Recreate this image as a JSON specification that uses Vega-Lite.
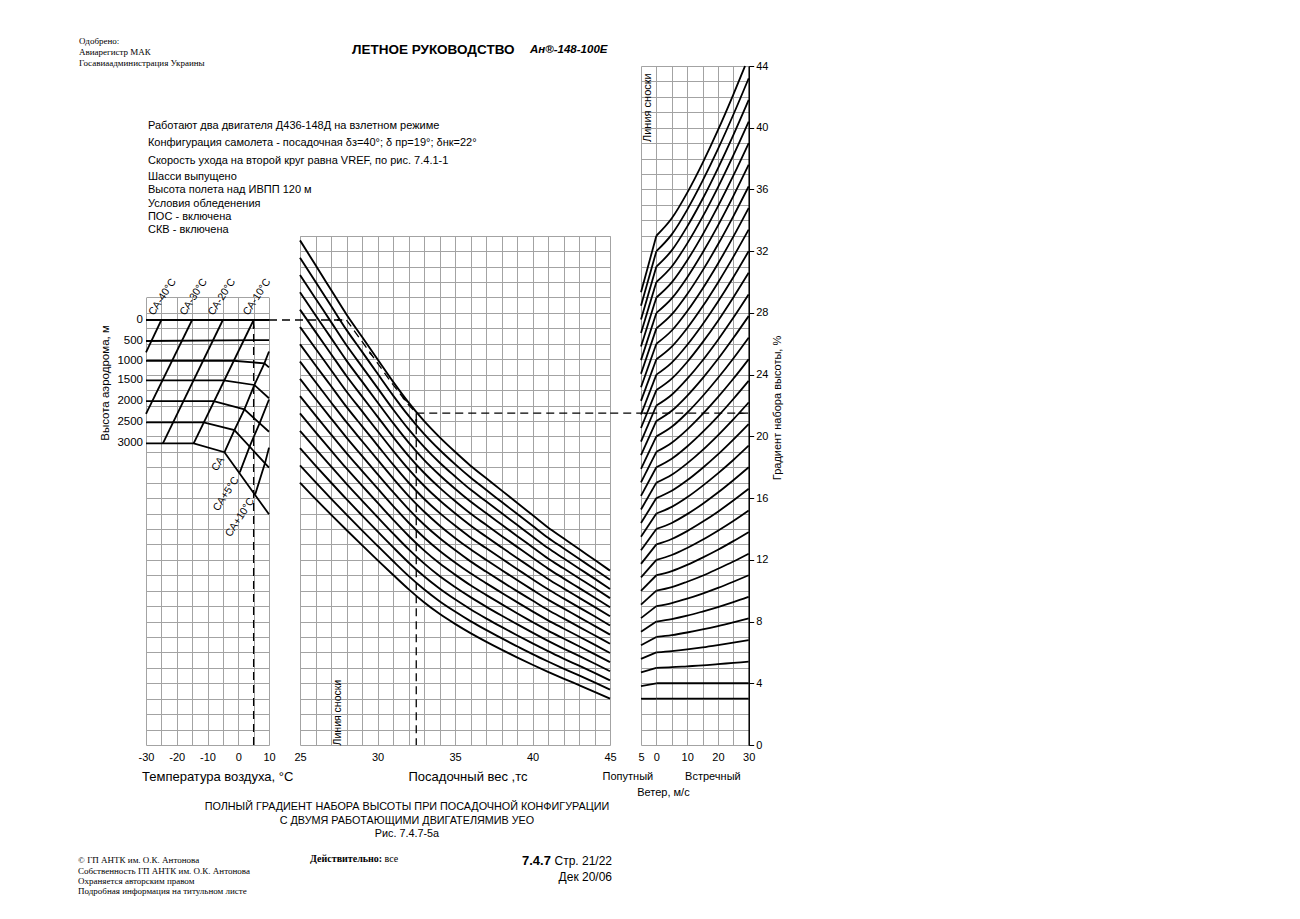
{
  "$schema": "https://vega.github.io/schema/vega-lite/v6.json",
  "width": 1300,
  "height": 919,
  "autosize": {"type": "none"},
  "padding": 0,
  "background": "white",
  "config": {
    "view": {"stroke": null},
    "font": "Liberation Sans",
    "axis": {"labelFont": "Liberation Sans", "labelColor": "black", "labelFontSize": 11, "gridColor": "#a3a3a3", "gridWidth": 1, "domainColor": "#808080", "tickColor": "black", "labelFlush": false, "labelOverlap": false},
    "text": {"font": "Liberation Sans", "fontSize": 11, "color": "black"}
  },
  "datasets": {
    "leftLines": [
      {"id": "h0", "i": 0, "t": -30, "y": 27.54}, {"id": "h0", "i": 1, "t": 10, "y": 27.54},
      {"id": "h500", "i": 0, "t": -30, "y": 26.18}, {"id": "h500", "i": 1, "t": 10, "y": 26.24},
      {"id": "h1000", "i": 0, "t": -30, "y": 24.9}, {"id": "h1000", "i": 1, "t": -1.5, "y": 24.9}, {"id": "h1000", "i": 2, "t": 8.5, "y": 24.73}, {"id": "h1000", "i": 3, "t": 10, "y": 24.47},
      {"id": "h1500", "i": 0, "t": -30, "y": 23.63}, {"id": "h1500", "i": 1, "t": -4.75, "y": 23.63}, {"id": "h1500", "i": 2, "t": 5.25, "y": 23.33}, {"id": "h1500", "i": 3, "t": 10, "y": 22.47},
      {"id": "h2000", "i": 0, "t": -30, "y": 22.29}, {"id": "h2000", "i": 1, "t": -8, "y": 22.29}, {"id": "h2000", "i": 2, "t": 2, "y": 21.75}, {"id": "h2000", "i": 3, "t": 10, "y": 20.3},
      {"id": "h2500", "i": 0, "t": -30, "y": 20.91}, {"id": "h2500", "i": 1, "t": -11.25, "y": 20.91}, {"id": "h2500", "i": 2, "t": -1.25, "y": 20.41}, {"id": "h2500", "i": 3, "t": 10, "y": 17.97},
      {"id": "h3000", "i": 0, "t": -30, "y": 19.55}, {"id": "h3000", "i": 1, "t": -14.5, "y": 19.55}, {"id": "h3000", "i": 2, "t": -4.5, "y": 18.97}, {"id": "h3000", "i": 3, "t": 10, "y": 14.95},
      {"id": "m40", "i": 0, "t": -25, "y": 27.54}, {"id": "m40", "i": 1, "t": -30, "y": 25.45},
      {"id": "m30", "i": 0, "t": -15, "y": 27.54}, {"id": "m30", "i": 1, "t": -30, "y": 21.46},
      {"id": "m20", "i": 0, "t": -5, "y": 27.54}, {"id": "m20", "i": 1, "t": -24.5, "y": 19.55},
      {"id": "m10", "i": 0, "t": 5, "y": 27.54}, {"id": "m10", "i": 1, "t": -14.5, "y": 19.55},
      {"id": "p0", "i": 0, "t": -4.5, "y": 18.97}, {"id": "p0", "i": 1, "t": -1.25, "y": 20.41}, {"id": "p0", "i": 2, "t": 2, "y": 21.75}, {"id": "p0", "i": 3, "t": 5.25, "y": 23.33}, {"id": "p0", "i": 4, "t": 8.5, "y": 24.73}, {"id": "p0", "i": 5, "t": 10, "y": 25.5},
      {"id": "p5", "i": 0, "t": 0.5, "y": 17.67}, {"id": "p5", "i": 1, "t": 3.75, "y": 19.37}, {"id": "p5", "i": 2, "t": 7, "y": 20.88}, {"id": "p5", "i": 3, "t": 10, "y": 22.39},
      {"id": "p10", "i": 0, "t": 5.5, "y": 16.23}, {"id": "p10", "i": 1, "t": 8.75, "y": 18.3}, {"id": "p10", "i": 2, "t": 10, "y": 19.27}
    ],
    "leftGuide": [{"i": 0, "t": 5, "y": 0}, {"i": 1, "t": 5, "y": 27.54}],
    "leftArrow": [{"t": 5, "y": 27.15}],
    "isaTop": [
      {"text": "СА-40°С", "t": -26.9, "y": 27.73},
      {"text": "СА-30°С", "t": -16.8, "y": 27.73},
      {"text": "СА-20°С", "t": -7.6, "y": 27.73},
      {"text": "СА-10°С", "t": 3.8, "y": 27.73}
    ],
    "isaBottom": [
      {"text": "СА", "t": -5.28, "y": 18.6},
      {"text": "СА+5°С", "t": -0.57, "y": 17.3},
      {"text": "СА+10°С", "t": 4.47, "y": 15.94}
    ],
    "altLabels": [
      {"text": "0", "t": -30, "y": 27.54},
      {"text": "500", "t": -30, "y": 26.18},
      {"text": "1000", "t": -30, "y": 24.9},
      {"text": "1500", "t": -30, "y": 23.63},
      {"text": "2000", "t": -30, "y": 22.29},
      {"text": "2500", "t": -30, "y": 20.91},
      {"text": "3000", "t": -30, "y": 19.55}
    ],
    "leftTitles": [
      {"text": "Температура воздуха, °С", "t": -31.3, "y": -2.07}
    ],
    "leftYTitle": [
      {"text": "Высота аэродрома, м", "t": -43.0, "y": 23.46}
    ],
    "midCurves": [
      {"w": 25, "c14": 17.0, "c15": 18.12, "c16": 19.24, "c17": 20.36, "c18": 21.49, "c19": 22.61, "c20": 23.73, "c21": 24.85, "c22": 25.97, "c23": 27.09, "c24": 28.21, "c25": 29.34, "c26": 30.46, "c27": 31.58, "c28": 32.7},
      {"w": 26, "c14": 15.95, "c15": 17.03, "c16": 18.11, "c17": 19.2, "c18": 20.28, "c19": 21.36, "c20": 22.44, "c21": 23.52, "c22": 24.61, "c23": 25.69, "c24": 26.77, "c25": 27.85, "c26": 28.94, "c27": 30.02, "c28": 31.1},
      {"w": 27, "c14": 14.93, "c15": 15.97, "c16": 17.01, "c17": 18.05, "c18": 19.09, "c19": 20.13, "c20": 21.17, "c21": 22.21, "c22": 23.26, "c23": 24.3, "c24": 25.34, "c25": 26.38, "c26": 27.42, "c27": 28.46, "c28": 29.5},
      {"w": 28, "c14": 13.93, "c15": 14.93, "c16": 15.93, "c17": 16.92, "c18": 17.92, "c19": 18.92, "c20": 19.92, "c21": 20.92, "c22": 21.91, "c23": 22.91, "c24": 23.91, "c25": 24.91, "c26": 25.9, "c27": 26.9, "c28": 27.9},
      {"w": 29, "c14": 12.95, "c15": 13.91, "c16": 14.88, "c17": 15.84, "c18": 16.81, "c19": 17.77, "c20": 18.74, "c21": 19.7, "c22": 20.66, "c23": 21.63, "c24": 22.59, "c25": 23.56, "c26": 24.52, "c27": 25.49, "c28": 26.45},
      {"w": 30, "c14": 11.98, "c15": 12.91, "c16": 13.84, "c17": 14.77, "c18": 15.7, "c19": 16.63, "c20": 17.56, "c21": 18.49, "c22": 19.42, "c23": 20.35, "c24": 21.28, "c25": 22.21, "c26": 23.14, "c27": 24.07, "c28": 25.0},
      {"w": 31, "c14": 11.03, "c15": 11.92, "c16": 12.82, "c17": 13.71, "c18": 14.61, "c19": 15.5, "c20": 16.4, "c21": 17.29, "c22": 18.18, "c23": 19.08, "c24": 19.97, "c25": 20.87, "c26": 21.76, "c27": 22.66, "c28": 23.55},
      {"w": 32, "c14": 10.1, "c15": 10.96, "c16": 11.83, "c17": 12.69, "c18": 13.56, "c19": 14.42, "c20": 15.29, "c21": 16.15, "c22": 17.01, "c23": 17.88, "c24": 18.74, "c25": 19.61, "c26": 20.47, "c27": 21.34, "c28": 22.2},
      {"w": 33, "c14": 9.25, "c15": 10.09, "c16": 10.93, "c17": 11.77, "c18": 12.61, "c19": 13.45, "c20": 14.29, "c21": 15.13, "c22": 15.96, "c23": 16.8, "c24": 17.64, "c25": 18.48, "c26": 19.32, "c27": 20.16, "c28": 21.0},
      {"w": 34, "c14": 8.5, "c15": 9.32, "c16": 10.14, "c17": 10.95, "c18": 11.77, "c19": 12.59, "c20": 13.41, "c21": 14.23, "c22": 15.04, "c23": 15.86, "c24": 16.68, "c25": 17.5, "c26": 18.31, "c27": 19.13, "c28": 19.95},
      {"w": 35, "c14": 7.85, "c15": 8.65, "c16": 9.44, "c17": 10.24, "c18": 11.04, "c19": 11.83, "c20": 12.63, "c21": 13.42, "c22": 14.22, "c23": 15.02, "c24": 15.81, "c25": 16.61, "c26": 17.41, "c27": 18.2, "c28": 19.0},
      {"w": 36, "c14": 7.25, "c15": 8.03, "c16": 8.8, "c17": 9.58, "c18": 10.35, "c19": 11.13, "c20": 11.9, "c21": 12.68, "c22": 13.45, "c23": 14.23, "c24": 15.0, "c25": 15.78, "c26": 16.55, "c27": 17.33, "c28": 18.1},
      {"w": 37, "c14": 6.7, "c15": 7.46, "c16": 8.21, "c17": 8.97, "c18": 9.73, "c19": 10.49, "c20": 11.24, "c21": 12.0, "c22": 12.76, "c23": 13.51, "c24": 14.27, "c25": 15.03, "c26": 15.79, "c27": 16.54, "c28": 17.3},
      {"w": 38, "c14": 6.18, "c15": 6.92, "c16": 7.65, "c17": 8.39, "c18": 9.13, "c19": 9.87, "c20": 10.6, "c21": 11.34, "c22": 12.08, "c23": 12.81, "c24": 13.55, "c25": 14.29, "c26": 15.03, "c27": 15.76, "c28": 16.5},
      {"w": 39, "c14": 5.68, "c15": 6.4, "c16": 7.11, "c17": 7.83, "c18": 8.54, "c19": 9.26, "c20": 9.97, "c21": 10.69, "c22": 11.41, "c23": 12.12, "c24": 12.84, "c25": 13.55, "c26": 14.27, "c27": 14.98, "c28": 15.7},
      {"w": 40, "c14": 5.2, "c15": 5.89, "c16": 6.59, "c17": 7.28, "c18": 7.97, "c19": 8.66, "c20": 9.36, "c21": 10.05, "c22": 10.74, "c23": 11.44, "c24": 12.13, "c25": 12.82, "c26": 13.51, "c27": 14.21, "c28": 14.9},
      {"w": 41, "c14": 4.74, "c15": 5.41, "c16": 6.08, "c17": 6.75, "c18": 7.41, "c19": 8.08, "c20": 8.75, "c21": 9.42, "c22": 10.09, "c23": 10.76, "c24": 11.43, "c25": 12.09, "c26": 12.76, "c27": 13.43, "c28": 14.1},
      {"w": 42, "c14": 4.3, "c15": 4.95, "c16": 5.6, "c17": 6.25, "c18": 6.9, "c19": 7.55, "c20": 8.2, "c21": 8.85, "c22": 9.5, "c23": 10.15, "c24": 10.8, "c25": 11.45, "c26": 12.1, "c27": 12.75, "c28": 13.4},
      {"w": 43, "c14": 3.88, "c15": 4.51, "c16": 5.14, "c17": 5.77, "c18": 6.4, "c19": 7.03, "c20": 7.66, "c21": 8.29, "c22": 8.92, "c23": 9.55, "c24": 10.18, "c25": 10.81, "c26": 11.44, "c27": 12.07, "c28": 12.7},
      {"w": 44, "c14": 3.45, "c15": 4.06, "c16": 4.67, "c17": 5.28, "c18": 5.89, "c19": 6.5, "c20": 7.11, "c21": 7.72, "c22": 8.34, "c23": 8.95, "c24": 9.56, "c25": 10.17, "c26": 10.78, "c27": 11.39, "c28": 12.0},
      {"w": 45, "c14": 3.0, "c15": 3.59, "c16": 4.19, "c17": 4.78, "c18": 5.37, "c19": 5.96, "c20": 6.56, "c21": 7.15, "c22": 7.74, "c23": 8.34, "c24": 8.93, "c25": 9.52, "c26": 10.11, "c27": 10.71, "c28": 11.3}
    ],
    "midRef": [{"w": 28}],
    "midGuide": [
      {"seg": "a", "i": 0, "w": 23.0, "y": 27.54}, {"seg": "a", "i": 1, "w": 28, "y": 27.54},
      {"seg": "b", "i": 0, "w": 28, "y": 27.54}, {"seg": "b", "i": 1, "w": 29, "y": 26.15}, {"seg": "b", "i": 2, "w": 30, "y": 24.75}, {"seg": "b", "i": 3, "w": 31, "y": 23.35}, {"seg": "b", "i": 4, "w": 32, "y": 22.05}, {"seg": "b", "i": 5, "w": 32.5, "y": 21.5},
      {"seg": "c", "i": 0, "w": 32.5, "y": 21.5}, {"seg": "c", "i": 1, "w": 32.5, "y": 0},
      {"seg": "d", "i": 0, "w": 32.5, "y": 21.5}, {"seg": "d", "i": 1, "w": 45, "y": 21.5}
    ],
    "midArrowRight": [{"w": 27.55, "y": 27.54}],
    "midArrowDiag": [{"w": 29.6, "y": 25.3}, {"w": 31.75, "y": 22.4}],
    "midArrowDown": [{"w": 32.5, "y": 20.95}],
    "pageSerif": [
      {"text": "Одобрено:", "w": 10.74, "y": 45.62},
      {"text": "Авиарегистр МАК", "w": 10.74, "y": 44.91},
      {"text": "Госавиаадминистрация Украины", "w": 10.74, "y": 44.19},
      {"text": "© ГП АНТК им. О.К. Антонова", "w": 10.68, "y": -7.45},
      {"text": "Собственность ГП АНТК им. О.К. Антонова", "w": 10.68, "y": -8.16},
      {"text": "Охраняется авторским правом", "w": 10.68, "y": -8.81},
      {"text": "Подробная информация на титульном листе", "w": 10.68, "y": -9.46}
    ],
    "pageHeader": [{"text": "ЛЕТНОЕ РУКОВОДСТВО", "w": 28.35, "y": 45.04}],
    "pageModel": [{"text": "Ан®-148-100E", "w": 39.84, "y": 45.04}],
    "conditions": [
      {"text": "Работают два двигателя Д436-148Д на взлетном режиме", "w": 15.19, "y": 40.11},
      {"text": "Конфигурация самолета - посадочная δз=40°; δ пр=19°; δнк=22°", "w": 15.19, "y": 38.99},
      {"text": "Скорость ухода на второй круг равна VREF, по рис. 7.4.1-1", "w": 15.19, "y": 37.86},
      {"text": "Шасси выпущено", "w": 15.19, "y": 36.83},
      {"text": "Высота полета над ИВПП 120 м", "w": 15.19, "y": 35.96},
      {"text": "Условия обледенения", "w": 15.19, "y": 35.06},
      {"text": "ПОС - включена", "w": 15.19, "y": 34.2},
      {"text": "СКВ - включена", "w": 15.19, "y": 33.37}
    ],
    "caption": [
      {"text": "ПОЛНЫЙ ГРАДИЕНТ НАБОРА ВЫСОТЫ ПРИ ПОСАДОЧНОЙ КОНФИГУРАЦИИ", "w": 31.9, "y": -4.02},
      {"text": "С ДВУМЯ РАБОТАЮЩИМИ ДВИГАТЕЛЯМИВ УЕО", "w": 31.9, "y": -4.92},
      {"text": "Рис. 7.4.7-5а", "w": 31.9, "y": -5.77}
    ],
    "midTitle": [{"text": "Посадочный вес ,тс", "w": 35.84, "y": -2.07}],
    "midRefLabel": [{"text": "Линия сноски", "w": 27.47, "y": 2.1}],
    "validBold": [{"text": "Действительно:", "w": 25.65, "y": -7.39}],
    "validPlain": [{"text": "все", "w": 30.45, "y": -7.39}],
    "secNum": [{"text": "7.4.7", "w": 39.32, "y": -7.52}],
    "pageNum": [{"text": "Стр. 21/22", "w": 45.13, "y": -7.52}, {"text": "Дек 20/06", "w": 45.13, "y": -8.55}],
    "wind": [
      {"w": -5, "g3": 3, "g4": 3.82, "g5": 4.7, "g6": 5.58, "g7": 6.46, "g8": 7.34, "g9": 8.22, "g10": 9.1, "g11": 9.98, "g12": 10.86, "g13": 11.74, "g14": 12.62, "g15": 13.5, "g16": 14.38, "g17": 15.26, "g18": 16.14, "g19": 17.02, "g20": 17.9, "g21": 18.78, "g22": 19.66, "g23": 20.54, "g24": 21.42, "g25": 22.3, "g26": 23.18, "g27": 24.06, "g28": 24.94, "g29": 25.82, "g30": 26.7, "g31": 27.58, "g32": 28.46, "g33": 29.34},
      {"w": 0, "g3": 3, "g4": 4, "g5": 5, "g6": 6, "g7": 7, "g8": 8, "g9": 9, "g10": 10, "g11": 11, "g12": 12, "g13": 13, "g14": 14, "g15": 15, "g16": 16, "g17": 17, "g18": 18, "g19": 19, "g20": 20, "g21": 21, "g22": 22, "g23": 23, "g24": 24, "g25": 25, "g26": 26, "g27": 27, "g28": 28, "g29": 29, "g30": 30, "g31": 31, "g32": 32, "g33": 33},
      {"w": 5, "g3": 3, "g4": 4, "g5": 5.04, "g6": 6.08, "g7": 7.12, "g8": 8.16, "g9": 9.2, "g10": 10.23, "g11": 11.27, "g12": 12.31, "g13": 13.35, "g14": 14.39, "g15": 15.43, "g16": 16.47, "g17": 17.51, "g18": 18.55, "g19": 19.59, "g20": 20.62, "g21": 21.66, "g22": 22.7, "g23": 23.74, "g24": 24.78, "g25": 25.82, "g26": 26.86, "g27": 27.9, "g28": 28.94, "g29": 29.98, "g30": 31.01, "g31": 32.05, "g32": 33.09, "g33": 34.13},
      {"w": 10, "g3": 3, "g4": 4, "g5": 5.1, "g6": 6.19, "g7": 7.29, "g8": 8.38, "g9": 9.48, "g10": 10.58, "g11": 11.67, "g12": 12.77, "g13": 13.86, "g14": 14.96, "g15": 16.05, "g16": 17.15, "g17": 18.25, "g18": 19.34, "g19": 20.44, "g20": 21.53, "g21": 22.63, "g22": 23.73, "g23": 24.82, "g24": 25.92, "g25": 27.01, "g26": 28.11, "g27": 29.21, "g28": 30.3, "g29": 31.4, "g30": 32.49, "g31": 33.59, "g32": 34.68, "g33": 35.78},
      {"w": 15, "g3": 3, "g4": 4, "g5": 5.16, "g6": 6.32, "g7": 7.49, "g8": 8.65, "g9": 9.81, "g10": 10.97, "g11": 12.14, "g12": 13.3, "g13": 14.46, "g14": 15.62, "g15": 16.79, "g16": 17.95, "g17": 19.11, "g18": 20.27, "g19": 21.44, "g20": 22.6, "g21": 23.76, "g22": 24.92, "g23": 26.09, "g24": 27.25, "g25": 28.41, "g26": 29.57, "g27": 30.74, "g28": 31.9, "g29": 33.06, "g30": 34.22, "g31": 35.38, "g32": 36.55, "g33": 37.71},
      {"w": 20, "g3": 3, "g4": 4, "g5": 5.24, "g6": 6.47, "g7": 7.71, "g8": 8.94, "g9": 10.18, "g10": 11.42, "g11": 12.65, "g12": 13.89, "g13": 15.12, "g14": 16.36, "g15": 17.6, "g16": 18.83, "g17": 20.07, "g18": 21.3, "g19": 22.54, "g20": 23.78, "g21": 25.01, "g22": 26.25, "g23": 27.48, "g24": 28.72, "g25": 29.96, "g26": 31.19, "g27": 32.43, "g28": 33.66, "g29": 34.9, "g30": 36.14, "g31": 37.37, "g32": 38.61, "g33": 39.84},
      {"w": 25, "g3": 3, "g4": 4, "g5": 5.32, "g6": 6.63, "g7": 7.95, "g8": 9.26, "g9": 10.58, "g10": 11.89, "g11": 13.21, "g12": 14.52, "g13": 15.84, "g14": 17.16, "g15": 18.47, "g16": 19.79, "g17": 21.1, "g18": 22.42, "g19": 23.73, "g20": 25.05, "g21": 26.37, "g22": 27.68, "g23": 29.0, "g24": 30.31, "g25": 31.63, "g26": 32.94, "g27": 34.26, "g28": 35.57, "g29": 36.89, "g30": 38.21, "g31": 39.52, "g32": 40.84, "g33": 42.15},
      {"w": 28.8, "g33": 44.0},
      {"w": 30, "g3": 3, "g4": 4, "g5": 5.4, "g6": 6.8, "g7": 8.2, "g8": 9.6, "g9": 11.0, "g10": 12.4, "g11": 13.8, "g12": 15.2, "g13": 16.6, "g14": 18.0, "g15": 19.4, "g16": 20.8, "g17": 22.2, "g18": 23.6, "g19": 25.0, "g20": 26.4, "g21": 27.8, "g22": 29.2, "g23": 30.6, "g24": 32.0, "g25": 33.4, "g26": 34.8, "g27": 36.2, "g28": 37.6, "g29": 39.0, "g30": 40.4, "g31": 41.8, "g32": 43.2}
    ],
    "rightRef": [{"w": 0}],
    "rightGuide": [{"i": 0, "w": -15, "y": 21.5}, {"i": 1, "w": 30, "y": 21.5}],
    "rightArrows": [{"w": -3.2, "y": 21.5}, {"w": 27.6, "y": 21.5}],
    "rightTexts": [
      {"text": "Попутный", "w": -9.26, "y": -2.07},
      {"text": "Встречный", "w": 18.36, "y": -2.07},
      {"text": "Ветер, м/с", "w": 2.28, "y": -3.11}
    ],
    "rightRotTexts": [
      {"text": "Линия сноски", "w": -2.6, "y": 41.3},
      {"text": "Градиент набора высоты, %", "w": 39.65, "y": 21.84}
    ]
  },
  "layer": [
    {
      "encoding": {
        "x": {"field": "t", "type": "quantitative", "scale": {"domain": [-30, 10], "range": [146, 269], "nice": false, "zero": false}, "axis": null},
        "y": {"field": "y", "type": "quantitative", "scale": {"domain": [0, 29], "range": [745, 297.48], "nice": false, "zero": false}, "axis": null}
      },
      "layer": [
        {
          "data": {"name": "leftLines"},
          "mark": {"type": "line", "color": "black", "strokeWidth": 1.8},
          "encoding": {
            "x": {"field": "t", "type": "quantitative", "scale": {"domain": [-30, 10], "range": [146, 269], "nice": false, "zero": false}, "axis": {"orient": "top", "values": [-30, -25, -20, -15, -10, -5, 0, 5, 10], "grid": true, "labels": false, "ticks": false, "domain": false, "title": null}},
            "y": {"field": "y", "type": "quantitative", "scale": {"domain": [0, 29], "range": [745, 297.48], "nice": false, "zero": false}, "axis": {"orient": "left", "values": [0, 1, 2, 3, 4, 5, 6, 7, 8, 9, 10, 11, 12, 13, 14, 15, 16, 17, 18, 19, 20, 21, 22, 23, 24, 25, 26, 27, 28, 29], "grid": true, "labels": false, "ticks": false, "domain": false, "title": null}},
            "detail": {"field": "id"},
            "order": {"field": "i", "type": "quantitative"}
          }
        },
        {
          "data": {"name": "leftGuide"},
          "mark": {"type": "line", "color": "black", "strokeWidth": 1.3, "strokeDash": [8, 5]},
          "encoding": {
            "x": {"field": "t", "type": "quantitative", "scale": {"domain": [-30, 10], "range": [146, 269], "nice": false, "zero": false}, "axis": {"orient": "bottom", "offset": -174, "values": [-30, -20, -10, 0, 10], "labelExpr": "'' + datum.value", "grid": false, "ticks": false, "domain": false, "labelPadding": 6, "title": null}},
            "order": {"field": "i", "type": "quantitative"}
          }
        },
        {
          "data": {"name": "leftArrow"},
          "mark": {"type": "point", "shape": "wedge", "filled": true, "size": 70, "color": "black", "opacity": 1}
        },
        {
          "data": {"name": "isaTop"},
          "mark": {"type": "text", "angle": -57, "align": "left", "baseline": "bottom", "fontSize": 10.5},
          "encoding": {"text": {"field": "text"}}
        },
        {
          "data": {"name": "isaBottom"},
          "mark": {"type": "text", "angle": -57, "align": "right", "baseline": "middle", "fontSize": 10.5},
          "encoding": {"text": {"field": "text"}}
        },
        {
          "data": {"name": "altLabels"},
          "mark": {"type": "text", "align": "right", "baseline": "middle", "fontSize": 11.5, "dx": -3},
          "encoding": {"text": {"field": "text"}}
        },
        {
          "data": {"name": "leftTitles"},
          "mark": {"type": "text", "align": "left", "baseline": "middle", "fontSize": 13},
          "encoding": {"text": {"field": "text"}}
        },
        {
          "data": {"name": "leftYTitle"},
          "mark": {"type": "text", "align": "center", "baseline": "middle", "fontSize": 11.5, "angle": -90},
          "encoding": {"text": {"field": "text"}}
        }
      ],
      "resolve": {"axis": {"x": "independent", "y": "independent"}}
    },
    {
      "encoding": {
        "x": {"field": "w", "type": "quantitative", "scale": {"domain": [25, 45], "range": [300, 610], "nice": false, "zero": false}, "axis": null},
        "y": {"field": "y", "type": "quantitative", "scale": {"domain": [0, 33], "range": [745, 235.75], "nice": false, "zero": false}, "axis": null}
      },
      "layer": [
        {
          "data": {"name": "midCurves"},
          "transform": [{"fold": ["c14", "c15", "c16", "c17", "c18", "c19", "c20", "c21", "c22", "c23", "c24", "c25", "c26", "c27", "c28"], "as": ["curve", "y"]}],
          "mark": {"type": "line", "color": "black", "strokeWidth": 1.9, "interpolate": "monotone"},
          "encoding": {
            "x": {"field": "w", "type": "quantitative", "scale": {"domain": [25, 45], "range": [300, 610], "nice": false, "zero": false}, "axis": {"orient": "top", "values": [25, 26, 27, 28, 29, 30, 31, 32, 33, 34, 35, 36, 37, 38, 39, 40, 41, 42, 43, 44, 45], "grid": true, "labels": false, "ticks": false, "domain": false, "title": null}},
            "y": {"field": "y", "type": "quantitative", "scale": {"domain": [0, 33], "range": [745, 235.75], "nice": false, "zero": false}, "axis": {"orient": "left", "values": [0, 1, 2, 3, 4, 5, 6, 7, 8, 9, 10, 11, 12, 13, 14, 15, 16, 17, 18, 19, 20, 21, 22, 23, 24, 25, 26, 27, 28, 29, 30, 31, 32, 33], "grid": true, "labels": false, "ticks": false, "domain": false, "title": null}},
            "detail": {"field": "curve"}
          }
        },
        {
          "data": {"name": "midRef"},
          "mark": {"type": "rule", "color": "black", "strokeWidth": 1.5},
          "encoding": {
            "x": {"field": "w", "type": "quantitative", "scale": {"domain": [25, 45], "range": [300, 610], "nice": false, "zero": false}, "axis": {"orient": "bottom", "offset": -174, "values": [25, 30, 35, 40, 45], "grid": false, "ticks": false, "domain": false, "labelPadding": 6, "title": null}},
            "y": {"datum": 0},
            "y2": {"datum": 33}
          }
        },
        {
          "data": {"name": "midGuide"},
          "mark": {"type": "line", "color": "black", "strokeWidth": 1.3, "strokeDash": [8, 5]},
          "encoding": {
            "detail": {"field": "seg"},
            "order": {"field": "i", "type": "quantitative"}
          }
        },
        {
          "data": {"name": "midArrowRight"},
          "mark": {"type": "point", "shape": "wedge", "filled": true, "size": 70, "angle": 90, "color": "black", "opacity": 1}
        },
        {
          "data": {"name": "midArrowDiag"},
          "mark": {"type": "point", "shape": "wedge", "filled": true, "size": 70, "angle": 141, "color": "black", "opacity": 1}
        },
        {
          "data": {"name": "midArrowDown"},
          "mark": {"type": "point", "shape": "wedge", "filled": true, "size": 70, "angle": 180, "color": "black", "opacity": 1}
        },
        {
          "data": {"name": "pageSerif"},
          "mark": {"type": "text", "align": "left", "baseline": "middle", "font": "Liberation Serif", "fontSize": 9},
          "encoding": {"text": {"field": "text"}}
        },
        {
          "data": {"name": "pageHeader"},
          "mark": {"type": "text", "align": "left", "baseline": "middle", "fontSize": 13.5, "fontWeight": "bold"},
          "encoding": {"text": {"field": "text"}}
        },
        {
          "data": {"name": "pageModel"},
          "mark": {"type": "text", "align": "left", "baseline": "middle", "fontSize": 11.5, "fontWeight": "bold", "fontStyle": "italic"},
          "encoding": {"text": {"field": "text"}}
        },
        {
          "data": {"name": "conditions"},
          "mark": {"type": "text", "align": "left", "baseline": "middle", "fontSize": 11},
          "encoding": {"text": {"field": "text"}}
        },
        {
          "data": {"name": "caption"},
          "mark": {"type": "text", "align": "center", "baseline": "middle", "fontSize": 10.8},
          "encoding": {"text": {"field": "text"}}
        },
        {
          "data": {"name": "midTitle"},
          "mark": {"type": "text", "align": "center", "baseline": "middle", "fontSize": 13},
          "encoding": {"text": {"field": "text"}}
        },
        {
          "data": {"name": "midRefLabel"},
          "mark": {"type": "text", "align": "center", "baseline": "middle", "fontSize": 10.5, "angle": -90},
          "encoding": {"text": {"field": "text"}}
        },
        {
          "data": {"name": "validBold"},
          "mark": {"type": "text", "align": "left", "baseline": "middle", "font": "Liberation Serif", "fontSize": 10, "fontWeight": "bold"},
          "encoding": {"text": {"field": "text"}}
        },
        {
          "data": {"name": "validPlain"},
          "mark": {"type": "text", "align": "left", "baseline": "middle", "font": "Liberation Serif", "fontSize": 10},
          "encoding": {"text": {"field": "text"}}
        },
        {
          "data": {"name": "secNum"},
          "mark": {"type": "text", "align": "left", "baseline": "middle", "fontSize": 13, "fontWeight": "bold"},
          "encoding": {"text": {"field": "text"}}
        },
        {
          "data": {"name": "pageNum"},
          "mark": {"type": "text", "align": "right", "baseline": "middle", "fontSize": 12},
          "encoding": {"text": {"field": "text"}}
        }
      ],
      "resolve": {"axis": {"x": "independent", "y": "independent"}}
    },
    {
      "encoding": {
        "x": {"field": "w", "type": "quantitative", "scale": {"domain": [-5, 30], "range": [641, 748.7], "nice": false, "zero": false}, "axis": null},
        "y": {"field": "y", "type": "quantitative", "scale": {"domain": [0, 44], "range": [745, 66], "nice": false, "zero": false}, "axis": null}
      },
      "layer": [
        {
          "data": {"name": "wind"},
          "transform": [
            {"filter": "datum.w >= 0"},
            {"fold": ["g3", "g4", "g5", "g6", "g7", "g8", "g9", "g10", "g11", "g12", "g13", "g14", "g15", "g16", "g17", "g18", "g19", "g20", "g21", "g22", "g23", "g24", "g25", "g26", "g27", "g28", "g29", "g30", "g31", "g32", "g33"], "as": ["curve", "y"]},
            {"filter": "isValid(datum.y)"}
          ],
          "mark": {"type": "line", "color": "black", "strokeWidth": 1.8, "interpolate": "monotone"},
          "encoding": {
            "x": {"field": "w", "type": "quantitative", "scale": {"domain": [-5, 30], "range": [641, 748.7], "nice": false, "zero": false}, "axis": {"orient": "top", "values": [-5, 0, 5, 10, 15, 20, 25, 30], "grid": true, "labels": false, "ticks": false, "domain": false, "title": null}},
            "y": {"field": "y", "type": "quantitative", "scale": {"domain": [0, 44], "range": [745, 66], "nice": false, "zero": false}, "axis": {"orient": "left", "values": [0, 1, 2, 3, 4, 5, 6, 7, 8, 9, 10, 11, 12, 13, 14, 15, 16, 17, 18, 19, 20, 21, 22, 23, 24, 25, 26, 27, 28, 29, 30, 31, 32, 33, 34, 35, 36, 37, 38, 39, 40, 41, 42, 43, 44], "grid": true, "labels": false, "ticks": false, "domain": false, "title": null}},
            "detail": {"field": "curve"}
          }
        },
        {
          "data": {"name": "wind"},
          "transform": [
            {"filter": "datum.w <= 0"},
            {"fold": ["g3", "g4", "g5", "g6", "g7", "g8", "g9", "g10", "g11", "g12", "g13", "g14", "g15", "g16", "g17", "g18", "g19", "g20", "g21", "g22", "g23", "g24", "g25", "g26", "g27", "g28", "g29", "g30", "g31", "g32", "g33"], "as": ["curve", "y"]},
            {"filter": "isValid(datum.y)"}
          ],
          "mark": {"type": "line", "color": "black", "strokeWidth": 1.8},
          "encoding": {
            "x": {"field": "w", "type": "quantitative", "scale": {"domain": [-5, 30], "range": [641, 748.7], "nice": false, "zero": false}, "axis": {"orient": "bottom", "offset": -174, "values": [-5, 0, 10, 20, 30], "labelExpr": "'' + abs(datum.value)", "grid": false, "ticks": false, "domain": false, "labelPadding": 6, "title": null}},
            "y": {"field": "y", "type": "quantitative", "scale": {"domain": [0, 44], "range": [745, 66], "nice": false, "zero": false}, "axis": {"orient": "right", "offset": -551.3, "values": [0, 4, 8, 12, 16, 20, 24, 28, 32, 36, 40, 44], "grid": false, "ticks": true, "tickSize": 5, "tickColor": "black", "domain": true, "domainColor": "black", "domainWidth": 1.5, "labelPadding": 2, "title": null}},
            "detail": {"field": "curve"}
          }
        },
        {
          "data": {"name": "rightRef"},
          "mark": {"type": "rule", "color": "black", "strokeWidth": 1.5},
          "encoding": {"y": {"datum": 0}, "y2": {"datum": 44}}
        },
        {
          "data": {"name": "rightGuide"},
          "mark": {"type": "line", "color": "black", "strokeWidth": 1.3, "strokeDash": [8, 5]},
          "encoding": {"order": {"field": "i", "type": "quantitative"}}
        },
        {
          "data": {"name": "rightArrows"},
          "mark": {"type": "point", "shape": "wedge", "filled": true, "size": 70, "angle": 90, "color": "black", "opacity": 1}
        },
        {
          "data": {"name": "rightTexts"},
          "mark": {"type": "text", "align": "center", "baseline": "middle", "fontSize": 11},
          "encoding": {"text": {"field": "text"}}
        },
        {
          "data": {"name": "rightRotTexts"},
          "mark": {"type": "text", "align": "center", "baseline": "middle", "fontSize": 11, "angle": -90},
          "encoding": {"text": {"field": "text"}}
        }
      ],
      "resolve": {"axis": {"x": "independent", "y": "independent"}}
    }
  ],
  "resolve": {"scale": {"x": "independent", "y": "independent"}, "axis": {"x": "independent", "y": "independent"}}
}
